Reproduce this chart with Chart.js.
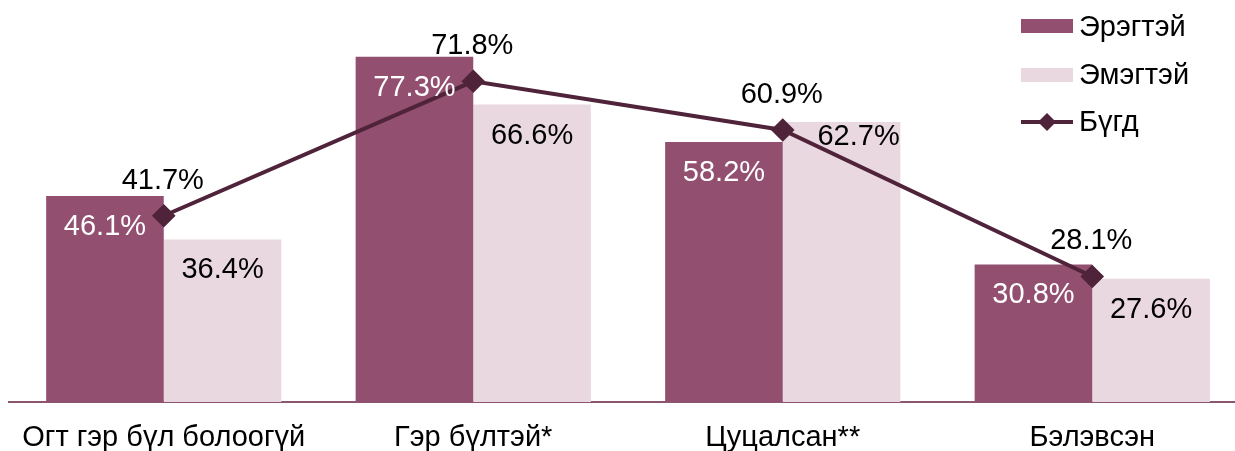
<!DOCTYPE html>
<html>
<head>
<meta charset="utf-8">
<script src="https://cdn.jsdelivr.net/npm/chart.js@4"></script>
<style>
  html, body { margin: 0; padding: 0; background: #fff; overflow: hidden; }
  #wrap { width: 1264px; height: 486px; margin-top: -13px; margin-left: -4px; }
</style>
</head>
<body>
<div id="wrap"><canvas id="chart"></canvas></div>
<script>
// Өгөгдөл
const categories = ["Огт гэр бүл болоогүй", "Гэр бүлтэй*", "Цуцалсан**", "Бэлэвсэн"];
const male = [46.1, 77.3, 58.2, 30.8];
const female = [36.4, 66.6, 62.7, 27.6];
const total = [41.7, 71.8, 60.9, 28.1];

const maleColor = "#934f70";
const femaleColor = "#ead8e0";
const totalColor = "#4f2339";
const font = "Liberation Sans, Arial, sans-serif";
// canvas нь дээш 13px, зүүн тийш 4px зөөгдсөн
const shiftX = 4;
const shiftY = 13;

// Утгын шошго
const valueLabels = {
  id: "valueLabels",
  afterDatasetsDraw(chart) {
    const ctx = chart.ctx;
    ctx.save();
    ctx.font = "29px " + font;
    ctx.textAlign = "center";
    ctx.textBaseline = "middle";

    chart.getDatasetMeta(0).data.forEach((bar, i) => {
      ctx.fillStyle = "#fff";
      ctx.fillText(male[i].toFixed(1) + "%", bar.x, bar.y + 31);
    });
    // 62.7% шошгыг шугамаас холдуулж баруун дээш нь зөөсөн
    chart.getDatasetMeta(1).data.forEach((bar, i) => {
      ctx.fillStyle = "#000";
      if (i === 2) {
        ctx.fillText(female[i].toFixed(1) + "%", bar.x + 17, bar.y + 15);
      } else {
        ctx.fillText(female[i].toFixed(1) + "%", bar.x, bar.y + 31);
      }
    });
    chart.getDatasetMeta(2).data.forEach((pt, i) => {
      ctx.fillStyle = "#000";
      ctx.fillText(total[i].toFixed(1) + "%", pt.x - 1, pt.y - 35);
    });
    ctx.restore();
  }
};

// Тайлбар (баруун дээд буланд)
const legendBox = {
  id: "legendBox",
  afterDraw(chart) {
    const ctx = chart.ctx;
    const x = 1021, w = 52, tx = 1079;
    ctx.save();
    ctx.translate(shiftX, shiftY);
    ctx.font = "29px " + font;
    ctx.textBaseline = "middle";
    ctx.fillStyle = maleColor;
    ctx.fillRect(x, 19, w, 14);
    ctx.fillStyle = femaleColor;
    ctx.fillRect(x, 68, w, 14);
    ctx.strokeStyle = totalColor;
    ctx.lineWidth = 4;
    ctx.beginPath();
    ctx.moveTo(x, 122);
    ctx.lineTo(x + w, 122);
    ctx.stroke();
    ctx.fillStyle = totalColor;
    ctx.beginPath();
    ctx.moveTo(x + w / 2, 113);
    ctx.lineTo(x + w / 2 + 9, 122);
    ctx.lineTo(x + w / 2, 131);
    ctx.lineTo(x + w / 2 - 9, 122);
    ctx.closePath();
    ctx.fill();
    ctx.fillStyle = "#000";
    ctx.fillText(chart.data.datasets[0].label, tx, 28);
    ctx.fillText(chart.data.datasets[1].label, tx, 76);
    ctx.fillText(chart.data.datasets[2].label, tx, 123);
    ctx.restore();
  }
};

new Chart(document.getElementById("chart"), {
  type: "bar",
  data: {
    labels: categories,
    datasets: [
      {
        label: "Эрэгтэй",
        data: male,
        backgroundColor: maleColor,
        order: 1,
        categoryPercentage: 0.76,
        barPercentage: 1.0,
      },
      {
        label: "Эмэгтэй",
        data: female,
        backgroundColor: femaleColor,
        order: 1,
        categoryPercentage: 0.76,
        barPercentage: 1.0,
      },
      {
        type: "line",
        label: "Бүгд",
        data: total,
        borderColor: totalColor,
        backgroundColor: totalColor,
        borderWidth: 4,
        pointStyle: "rectRot",
        pointRadius: 9,
        pointHoverRadius: 9,
        tension: 0,
        order: 0,
      },
    ],
  },
  options: {
    responsive: true,
    maintainAspectRatio: false,
    animation: false,
    layout: { padding: { left: 4, right: 3, top: 0, bottom: 0 } },
    plugins: {
      legend: { display: false },
      tooltip: { enabled: false },
    },
    scales: {
      x: {
        grid: { display: false, drawTicks: false },
        border: { display: true, color: "#8a5670", width: 2 },
        ticks: {
          color: "#000",
          font: { family: font, size: 29, lineHeight: 1 },
          padding: 21,
          maxRotation: 0,
          autoSkip: false,
        },
      },
      y: {
        display: false,
        min: 0,
        max: 90,
      },
    },
  },
  plugins: [valueLabels, legendBox],
});
</script>
</body>
</html>
